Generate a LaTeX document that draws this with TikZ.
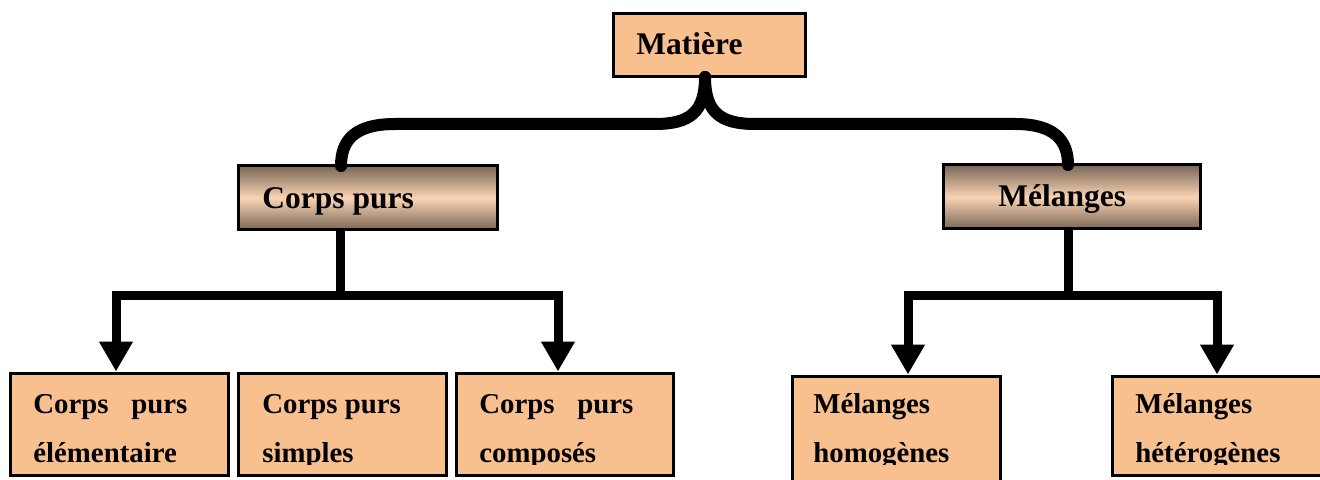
\documentclass[tikz,border=0pt]{standalone}
\usepackage{fontspec}
\setmainfont{Liberation Serif}
\usetikzlibrary{arrows.meta,fit}
\definecolor{peach}{HTML}{F8C08F}
\definecolor{brdark}{HTML}{7A6656}
\definecolor{brlight}{HTML}{F9D4B4}
\tikzset{
  pbox/.style={draw=black,line width=1.5pt,fill=peach,inner sep=0pt},
  gbox/.style={draw=black,line width=1.5pt,inner sep=0pt,top color=brdark,bottom color=brdark,middle color=brlight},
  btxt/.style={font=\fontsize{15.75}{18}\selectfont\bfseries,anchor=base west,inner sep=0pt},
  stxt/.style={font=\fontsize{14.4}{17}\selectfont\bfseries,anchor=base west,inner sep=0pt},
  brace/.style={line width=6pt,line cap=round},
  tree/.style={line width=4.5pt,miter limit=10},
  arr/.style={tree,-{Triangle[width=16pt,length=15pt]}},
}
\begin{document}
\begin{tikzpicture}[x=0.5pt,y=-0.5pt]
\useasboundingbox (0,0) rectangle (1320,480);
\begin{scope}
\clip (0,0) rectangle (1320,480);
% boxes
\node[pbox,fit={(613,14) (805,77)}] (mat) {};
\node[gbox,fit={(238,166) (497,230)}] (cp) {};
\node[gbox,fit={(943,165) (1200,229)}] (mel) {};
\node[pbox,fit={(10,373) (228,475)}] (b1) {};
\node[pbox,fit={(238,373) (446,475)}] (b2) {};
\node[pbox,fit={(456,373) (673,475)}] (b3) {};
\node[pbox,fit={(792,376) (1000,485)}] (b4) {};
\node[pbox,fit={(1112,376) (1328,475)}] (b5) {};
\end{scope}
% titles
\node[btxt] (tmat) at (636,55) {Matière};
\node[btxt] (tcp) at (262,209) {Corps purs};
\node[btxt] (tmel) at (998,207) {Mélanges};
% bottom texts (clipped like the reference)
\begin{scope}
\clip (0,0) rectangle (1320,464);
\node[stxt] (t1a) at (33,413) {\makebox[77pt][s]{Corps purs}};
\node[stxt] (t1b) at (33,462) {élémentaire};
\node[stxt] (t2a) at (262,413) {Corps purs};
\node[stxt] (t2b) at (262,462) {simples};
\node[stxt] (t3a) at (479,413) {\makebox[77pt][s]{Corps purs}};
\node[stxt] (t3b) at (479,462) {composés};
\node[stxt] (t4a) at (813,413) {Mélanges};
\node[stxt] (t4b) at (813,462) {homogènes};
\node[stxt] (t5a) at (1135,413) {Mélanges};
\node[stxt] (t5b) at (1135,462) {hétérogènes};
\end{scope}
% brace from Matière
\coordinate (tip) at (705,77);
\coordinate (cpt) at (341,166);
\coordinate (melt) at (1068,165);
\draw[brace] (tip) .. controls (705,112) and (690,124) .. (655,124) -- (395,124)
  .. controls (355,124) and (341,140) .. (cpt);
\draw[brace] (tip) .. controls (705,112) and (720,124) .. (755,124) -- (1015,124)
  .. controls (1054,124) and (1068,140) .. (melt);
% Corps purs tree
\coordinate (cpb) at (340,230);
\coordinate (j1) at (340,296);
\coordinate (l1) at (116,296);
\coordinate (r1) at (558,296);
\draw[tree] (cpb) -- (j1);
\draw[arr] (j1) -- (l1) -- (l1 |- b1.north);
\draw[arr] (j1) -- (r1) -- (r1 |- b3.north);
% Mélanges tree
\coordinate (melb) at (1068,229);
\coordinate (j2) at (1068,296);
\coordinate (l2) at (908,296);
\coordinate (r2) at (1217,296);
\draw[tree] (melb) -- (j2);
\draw[arr] (j2) -- (l2) -- (l2 |- b4.north);
\draw[arr] (j2) -- (r2) -- (r2 |- b5.north);
\end{tikzpicture}
\end{document}
